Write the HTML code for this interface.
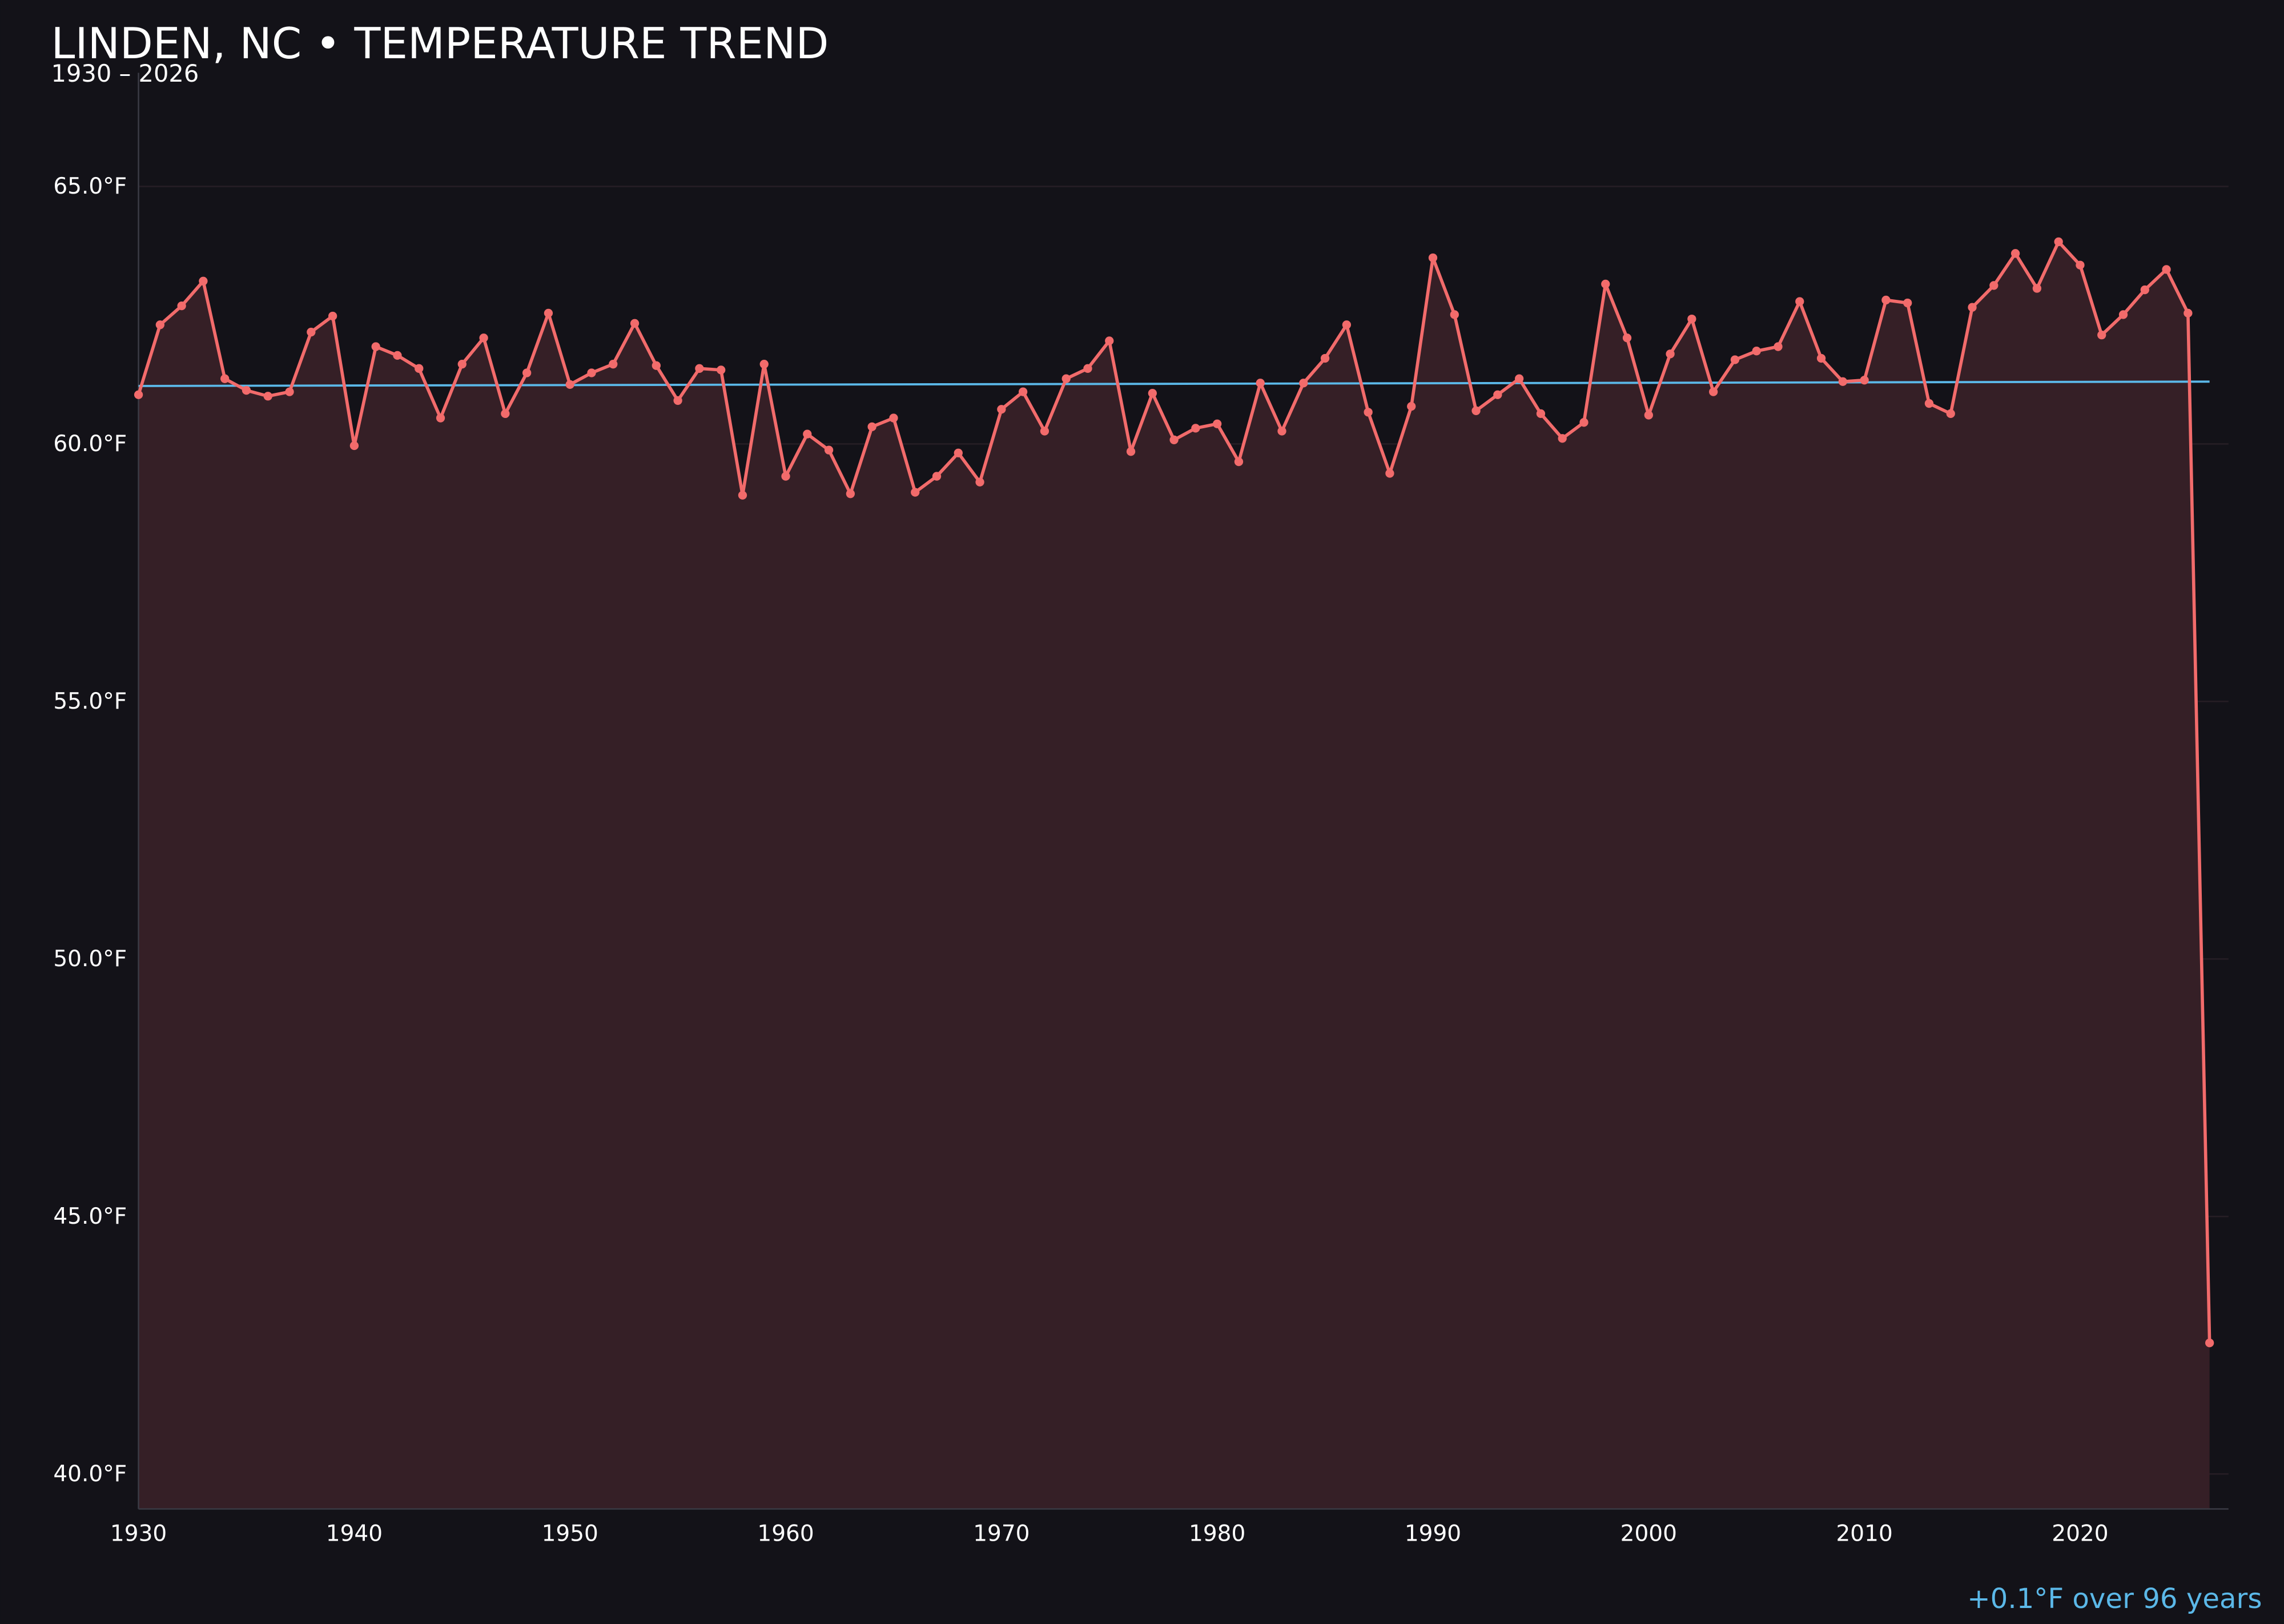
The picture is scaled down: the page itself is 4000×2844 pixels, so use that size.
<!DOCTYPE html>
<html><head><meta charset="utf-8"><style>
html,body{margin:0;padding:0;background:#131218;}
svg{display:block}
text{font-family:"DejaVu Sans","Liberation Sans",sans-serif;}
</style></head><body>
<svg id="c" width="4000" height="2844" viewBox="0 0 1568 1115" xmlns="http://www.w3.org/2000/svg">
<rect width="1568" height="1115" fill="#131218"/>
<g id="grid" stroke="#261e25" stroke-width="1"></g>
<path id="area" fill="#351f26"/>
<line x1="95" y1="50" x2="95" y2="1036" stroke="#3a3a44" stroke-width="1"/>
<line x1="95" y1="1036" x2="1530" y2="1036" stroke="#3a3a44" stroke-width="1"/>
<line x1="95" y1="265" x2="1517" y2="262" stroke="#5bb8e8" stroke-width="1.5"/>
<polyline id="line" fill="none" stroke="#f26b6b" stroke-width="2.2" stroke-linejoin="round"/>
<g id="dots" fill="#f26b6b"></g>
<g id="yl" fill="#ffffff" font-size="15.3" text-anchor="end"></g>
<g id="xl" fill="#ffffff" font-size="15.3" text-anchor="middle"></g>
<text x="35" y="40" fill="#ffffff" font-size="29.5">LINDEN, NC • TEMPERATURE TREND</text>
<text x="35" y="56" fill="#ffffff" font-size="16.3">1930 – 2026</text>
<text x="1553" y="1104" fill="#5bb8e8" font-size="18.9" text-anchor="end">+0.1°F over 96 years</text>
</svg>
<script>
var ys=[271,223,210,193,260,268,272,269,228,217,306,238,244,253,287,250,232,284,256,215,264,256,250,222,251,275,253,254,340,250,327,298,309,339,293,287,338,327,311,331,281,269,296,260,253,234,310,270,302,294,291,317,263,296,263,246,223,283,325,279,177,216,282,271,260,284,301,290,195,232,285,243,219,269,247,241,238,207,246,262,261,206,208,277,284,211,196,174,198,166,182,230,216,199,185,215,922];
var ns="http://www.w3.org/2000/svg",pts=[],d="M95,1036";
var dots=document.getElementById("dots");
ys.forEach(function(y,i){var x=95+i*14.8125;pts.push(x.toFixed(2)+","+y);d+=" L"+x.toFixed(2)+","+y;
var c=document.createElementNS(ns,"circle");c.setAttribute("cx",x);c.setAttribute("cy",y);c.setAttribute("r","3");dots.appendChild(c);});
d+=" L1517,1036 Z";
document.getElementById("area").setAttribute("d",d);
document.getElementById("line").setAttribute("points",pts.join(" "));
var g=document.getElementById("grid"),yl=document.getElementById("yl"),xl=document.getElementById("xl");
[65,60,55,50,45,40].forEach(function(v){var y=128+(65-v)*35.36;
var l=document.createElementNS(ns,"line");l.setAttribute("x1",95);l.setAttribute("x2",1530);l.setAttribute("y1",y);l.setAttribute("y2",y);g.appendChild(l);
var t=document.createElementNS(ns,"text");t.setAttribute("x",87);t.setAttribute("y",y+5);t.textContent=v.toFixed(1)+"°F";yl.appendChild(t);});
for(var yr=1930;yr<=2020;yr+=10){var x=95+(yr-1930)*14.8125;
var t=document.createElementNS(ns,"text");t.setAttribute("x",x);t.setAttribute("y",1058);t.textContent=yr;xl.appendChild(t);}
</script>
</body></html>
